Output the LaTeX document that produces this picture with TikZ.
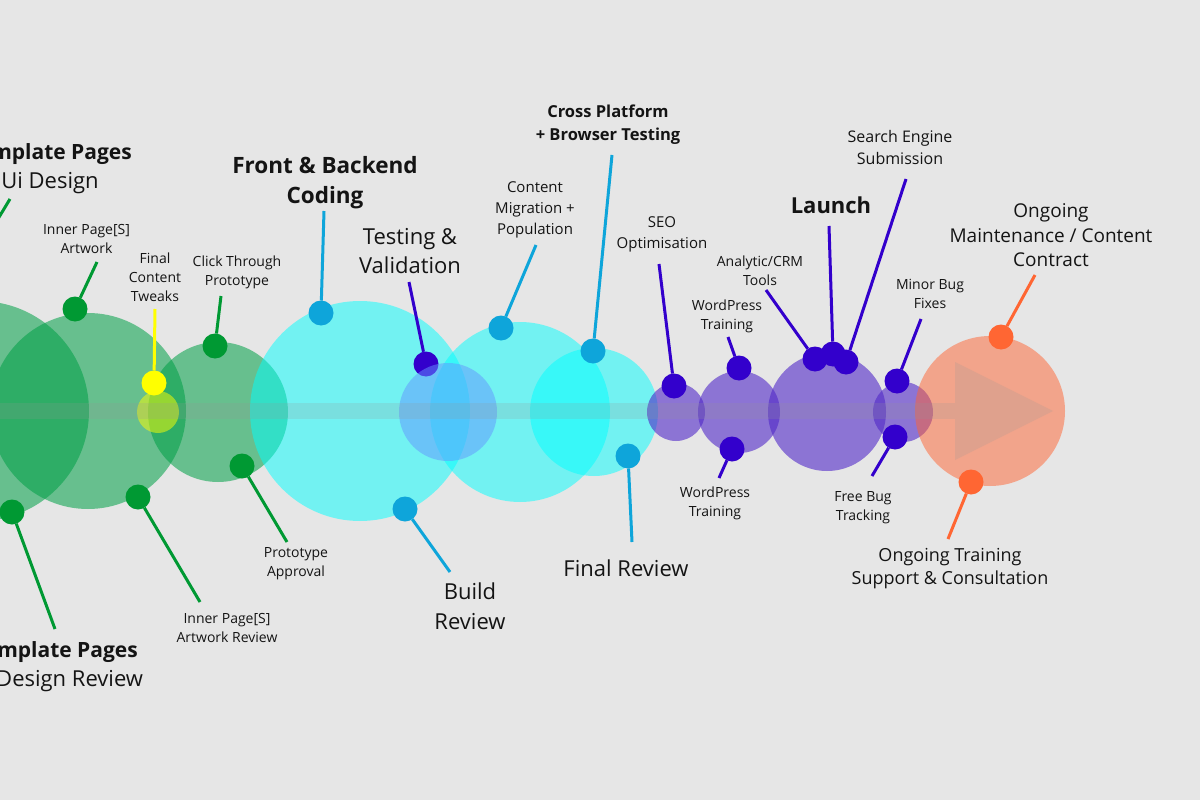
\documentclass[tikz,border=0pt]{standalone}
\usepackage{fontspec}
\setmainfont{Open Sans}
\definecolor{bg}{RGB}{230,230,230}
\definecolor{cgreen}{RGB}{0,160,70}
\definecolor{ccyan}{RGB}{0,255,255}
\definecolor{cblue}{RGB}{100,150,255}
\definecolor{cpurple}{RGB}{80,40,200}
\definecolor{corange}{RGB}{255,100,50}
\definecolor{cyel}{RGB}{255,255,0}
\definecolor{dgreen}{RGB}{0,153,51}
\definecolor{dcyan}{RGB}{14,165,218}
\definecolor{dpurple}{RGB}{51,0,204}
\definecolor{dorange}{RGB}{255,102,51}
\definecolor{dyel}{RGB}{255,255,0}
\definecolor{txt}{RGB}{20,20,20}
\definecolor{shaftc}{RGB}{150,150,150}
\tikzset{
  bubble/.style={circle, inner sep=0pt, outer sep=0pt, draw=none},
  knob/.style={circle, inner sep=0pt, outer sep=0pt, minimum size=25pt, draw=none},
  lead/.style={line width=3pt},
  lab/.style={inner sep=0pt, align=center, text=txt},
  lsmall/.style={lab, font=\fontsize{14}{19}\selectfont},
  lmid/.style={lab, font=\fontsize{15}{21}\selectfont},
  lbig/.style={lab, font=\fontsize{22}{29}\selectfont},
  shaft/.style={fill=shaftc, fill opacity=0.2}
}
\begin{document}
\begin{tikzpicture}[x=1pt,y=-1pt]
\useasboundingbox (0,0) rectangle (1200,800);
\fill[bg] (0,0) rectangle (1200,800);
\clip (0,0) rectangle (1200,800);

% big bubbles
\node[bubble, fill=cgreen, fill opacity=.55, minimum size=220pt] (g1) at (-21,411) {};
\node[bubble, fill=cgreen, fill opacity=.55, minimum size=196pt] (g2) at (88,411) {};
\node[bubble, fill=cgreen, fill opacity=.55, minimum size=140pt] (g3) at (218,412) {};
\node[bubble, fill=ccyan, fill opacity=.5, minimum size=220pt] (c1) at (360,411) {};
\node[bubble, fill=ccyan, fill opacity=.5, minimum size=180pt] (c3) at (520,412) {};
\node[bubble, fill=ccyan, fill opacity=.5, minimum size=128pt] (c4) at (594,412) {};
\node[bubble, fill=cpurple, fill opacity=.6, minimum size=58pt] (p1) at (676,412) {};
\node[bubble, fill=cpurple, fill opacity=.6, minimum size=82pt] (p2) at (739,412) {};
\node[bubble, fill=cpurple, fill opacity=.6, minimum size=118pt] (p3) at (827,412) {};
\node[bubble, fill=cpurple, fill opacity=.6, minimum size=60pt] (p4) at (903,412) {};
\node[bubble, fill=corange, fill opacity=.5, minimum size=150pt] (o1) at (990,411) {};

% Testing & Validation marker (lies under the blue bubble)
\node[knob, fill=dpurple] (d9) at (426,364) {};
\coordinate (e9) at (409,282);
\draw[lead, dpurple] (d9) -- (e9);

\node[bubble, fill=cblue, fill opacity=.5, minimum size=98pt] (c2) at (448,412) {};
\node[bubble, fill=cyel, fill opacity=.5, minimum size=42pt] (y1) at (158,412) {};

% arrow
\fill[shaft] (0,403) rectangle (955,419);
\fill[shaft] (955,362) -- (1053,411) -- (955,460) -- cycle;

% green markers
\node[knob, fill=dgreen] (d1) at (-22,252) {};
\coordinate (e1) at (10,199);
\draw[lead, dgreen] (d1) -- (e1);
\node[knob, fill=dgreen] (d2) at (75,309) {};
\coordinate (e2) at (97,262);
\draw[lead, dgreen] (d2) -- (e2);
\node[knob, fill=dyel] (d3) at (154,383) {};
\coordinate (e3) at (155,309);
\draw[lead, dyel] (d3) -- (e3);
\node[knob, fill=dgreen] (d4) at (215,346) {};
\coordinate (e4) at (221,296);
\draw[lead, dgreen] (d4) -- (e4);
\node[knob, fill=dgreen] (d5) at (12,512) {};
\coordinate (e5) at (55,629);
\draw[lead, dgreen] (d5) -- (e5);
\node[knob, fill=dgreen] (d6) at (138,497) {};
\coordinate (e6) at (200,602);
\draw[lead, dgreen] (d6) -- (e6);
\node[knob, fill=dgreen] (d7) at (242,466) {};
\coordinate (e7) at (287,542);
\draw[lead, dgreen] (d7) -- (e7);

% cyan markers
\node[knob, fill=dcyan] (d8) at (321,313) {};
\coordinate (e8) at (324,211);
\draw[lead, dcyan] (d8) -- (e8);
\node[knob, fill=dcyan] (d10) at (501,328) {};
\coordinate (e10) at (536,245);
\draw[lead, dcyan] (d10) -- (e10);
\node[knob, fill=dcyan] (d11) at (593,351) {};
\coordinate (e11) at (612,155);
\draw[lead, dcyan] (d11) -- (e11);
\node[knob, fill=dcyan] (d12) at (405,509) {};
\coordinate (e12) at (450,572);
\draw[lead, dcyan] (d12) -- (e12);
\node[knob, fill=dcyan] (d13) at (628,456) {};
\coordinate (e13) at (632,542);
\draw[lead, dcyan] (d13) -- (e13);

% purple markers
\node[knob, fill=dpurple] (d14) at (674,386) {};
\coordinate (e14) at (659,264);
\draw[lead, dpurple] (d14) -- (e14);
\node[knob, fill=dpurple] (d15) at (739,368) {};
\coordinate (e15) at (728,337);
\draw[lead, dpurple] (d15) -- (e15);
\node[knob, fill=dpurple] (d16) at (815,359) {};
\coordinate (e16) at (766,290);
\draw[lead, dpurple] (d16) -- (e16);
\node[knob, fill=dpurple] (d17) at (833,354) {};
\coordinate (e17) at (829,226);
\draw[lead, dpurple] (d17) -- (e17);
\node[knob, fill=dpurple] (d18) at (846,362) {};
\coordinate (e18) at (906,179);
\draw[lead, dpurple] (d18) -- (e18);
\node[knob, fill=dpurple] (d19) at (897,381) {};
\coordinate (e19) at (921,319);
\draw[lead, dpurple] (d19) -- (e19);
\node[knob, fill=dpurple] (d20) at (732,449) {};
\coordinate (e20) at (719,478);
\draw[lead, dpurple] (d20) -- (e20);
\node[knob, fill=dpurple] (d21) at (895,437) {};
\coordinate (e21) at (872,476);
\draw[lead, dpurple] (d21) -- (e21);

% orange markers
\node[knob, fill=dorange] (d22) at (1001,337) {};
\coordinate (e22) at (1035,275);
\draw[lead, dorange] (d22) -- (e22);
\node[knob, fill=dorange] (d23) at (971,482) {};
\coordinate (e23) at (948,539);
\draw[lead, dorange] (d23) -- (e23);

% labels
\node[lbig] (t1) at (50,168.5) {{\fontsize{21}{29}\selectfont\bfseries Template Pages}\\Ui Design};
\node[lsmall] (t2) at (86.5,238.5) {Inner Page[S]\\Artwork};
\node[lsmall] (t3) at (155,277) {Final\\Content\\Tweaks};
\node[lsmall] (t4) at (237,272.5) {Click Through\\Prototype};
\node[lab, font=\fontsize{22.5}{30}\selectfont\bfseries] (t5) at (325,183) {Front \& Backend\\Coding};
\node[lbig] (t6) at (410,251) {Testing \&\\Validation};
\node[lmid] (t7) at (535,209.5) {Content\\Migration +\\Population};
\node[lab, font=\fontsize{16.5}{23}\selectfont\bfseries] (t8) at (608,125) {Cross Platform\\+ Browser Testing};
\node[lmid] (t9) at (662,234) {SEO\\Optimisation};
\node[lsmall] (t10) at (760,270.5) {Analytic/CRM\\Tools};
\node[lsmall] (t11) at (727,316) {WordPress\\Training};
\node[lab, font=\fontsize{22}{29}\selectfont\bfseries] (t12) at (831,205) {Launch};
\node[lab, font=\fontsize{16}{22}\selectfont] (t13) at (900,147) {Search Engine\\Submission};
\node[lsmall] (t14) at (930,293.5) {Minor Bug\\Fixes};
\node[lab, font=\fontsize{19}{24.5}\selectfont] (t15) at (1051,235.5) {Ongoing\\Maintenance / Content\\Contract};
\node[lbig] (t16) at (56,666.5) {{\fontsize{21}{28}\selectfont\bfseries Template Pages}\\Ui Design Review};
\node[lsmall] (t17) at (227,627.5) {Inner Page[S]\\Artwork Review};
\node[lsmall] (t18) at (296,564) {Prototype\\Approval};
\node[lab, font=\fontsize{22}{30}\selectfont] (t19) at (470,606) {Build\\Review};
\node[lbig] (t20) at (626,568) {Final Review};
\node[lsmall] (t21) at (715,503.5) {WordPress\\Training};
\node[lsmall] (t22) at (863,507.5) {Free Bug\\Tracking};
\node[lab, font=\fontsize{18}{23}\selectfont] (t23) at (950,568.5) {Ongoing Training\\Support \& Consultation};
\end{tikzpicture}
\end{document}
